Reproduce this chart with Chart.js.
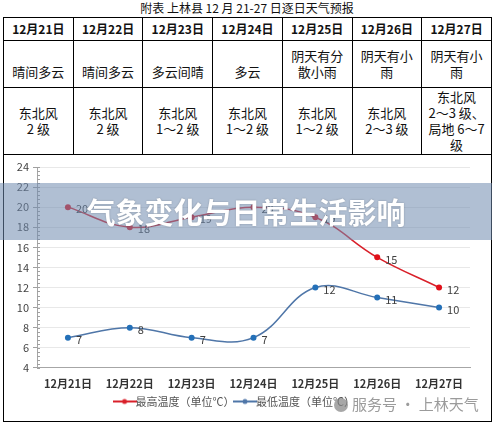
<!DOCTYPE html>
<html>
<head>
<meta charset="utf-8">
<script src="https://cdn.jsdelivr.net/npm/chart.js@4.4.1/dist/chart.umd.min.js"></script>
<style>
body { margin: 0; width: 494px; height: 424px; background: #fff; position: relative; overflow: hidden; font-family: "Noto Sans CJK SC", sans-serif; }
#title { position: absolute; left: 0; top: 0; width: 494px; text-align: center; font-size: 12px; line-height: 16px; color: #111; }
#box { position: absolute; left: 3px; top: 17px; width: 487px; height: 403px; border: 1px solid #000; }
#tbl { position: absolute; left: 3px; top: 17px; width: 489px; border-collapse: collapse; table-layout: fixed; }
#tbl td { border: 1px solid #000; text-align: center; padding: 0; font-size: 13px; line-height: 16px; color: #111; white-space: pre-line; }
#tbl tr.h td { height: 22px; font-weight: bold; font-size: 12px; }
#tbl tr.w td { height: 39px; vertical-align: bottom; padding-bottom: 7px; }
#tbl tr.f td { height: 66px; }
#wrap { position: absolute; left: 4px; top: 156px; width: 486px; height: 264px; }
#band { position: absolute; left: 0; top: 183px; width: 492px; height: 57px; background: rgba(111,139,175,0.55); color: #fff; font-weight: bold; font-size: 29px; line-height: 57px; text-align: center; text-shadow: 0 0 2px rgba(0,0,0,0.25); }
#wm { position: absolute; left: 334px; top: 394px; font-size: 15px; line-height: 20px; color: rgba(130,130,130,0.8); }
#wm span { display: inline-block; width: 14px; height: 14px; border-radius: 7px; background: rgba(130,130,130,0.7); vertical-align: -2px; margin-right: 4px; }
</style>
</head>
<body>
<div id="title">附表 上林县 12 月 21-27 日逐日天气预报</div>
<div id="box"></div>
<table id="tbl">
  <tr class="h" id="rowDays"></tr>
  <tr class="w" id="rowWeather"></tr>
  <tr class="f" id="rowWind"></tr>
</table>
<div id="wrap"><canvas id="myChart"></canvas></div>
<div id="band">气象变化与日常生活影响</div>
<div id="wm"><span></span>服务号 · 上林天气</div>
<script>
var days = ['12月21日', '12月22日', '12月23日', '12月24日', '12月25日', '12月26日', '12月27日'];
var weather = ['晴间多云', '晴间多云', '多云间晴', '多云', '阴天有分\n散小雨', '阴天有小\n雨', '阴天有小\n雨'];
var wind = ['东北风\n2 级', '东北风\n2 级', '东北风\n1～2 级', '东北风\n1～2 级', '东北风\n1～2 级', '东北风\n2～3 级', '东北风\n2～3 级、\n局地 6～7\n级'];
var high = [20, 18, 19, 20, 19, 15, 12];
var low = [7, 8, 7, 7, 12, 11, 10];
var yMin = 4, yMax = 24, yStep = 2;

function fillRow(id, list) {
    var row = document.getElementById(id);
    for (var i = 0; i < list.length; i++) {
        var td = document.createElement('td');
        td.textContent = list[i];
        row.appendChild(td);
    }
}
fillRow('rowDays', days);
fillRow('rowWeather', weather);
fillRow('rowWind', wind);

// little "line + dot" marker for the legend
function legendMark(color) {
    var c = document.createElement('canvas');
    c.width = 24; c.height = 8;
    var g = c.getContext('2d');
    g.strokeStyle = color; g.lineWidth = 2;
    g.beginPath(); g.moveTo(0, 4); g.lineTo(24, 4); g.stroke();
    g.fillStyle = color;
    g.beginPath(); g.arc(12, 4, 2.5, 0, Math.PI * 2); g.fill();
    return c;
}

var valueLabels = {
    id: 'valueLabels',
    afterDatasetsDraw: function (chart) {
        var ctx = chart.ctx;
        ctx.save();
        ctx.font = '11px "Noto Sans CJK SC"';
        ctx.fillStyle = '#404040';
        ctx.textBaseline = 'middle';
        chart.data.datasets.forEach(function (ds, i) {
            chart.getDatasetMeta(i).data.forEach(function (pt, j) {
                ctx.fillText(ds.data[j], pt.x + 8, pt.y + 2);
            });
        });
        ctx.restore();
    }
};

var minorTicks = {
    id: 'minorTicks',
    afterDraw: function (chart) {
        var y = chart.scales.y, ctx = chart.ctx;
        ctx.save();
        ctx.strokeStyle = '#a0a0a0';
        ctx.lineWidth = 1;
        for (var k = 0; k <= (yMax - yMin) / 0.4; k++) {
            var py = Math.round(y.getPixelForValue(yMin + k * 0.4)) + 0.5;
            ctx.beginPath();
            ctx.moveTo(y.right, py);
            ctx.lineTo(y.right + 3, py);
            ctx.stroke();
        }
        ctx.restore();
    }
};

var ctx = document.getElementById('myChart').getContext('2d');
var myChart = new Chart(ctx, {
    type: 'line',
    data: {
        labels: days,
        datasets: [{
            label: '最高温度（单位℃）',
            data: high,
            borderColor: '#d9202a',
            backgroundColor: '#e0101a',
            pointBackgroundColor: '#e0101a',
            borderWidth: 1.5,
            pointRadius: 3,
            pointBorderWidth: 0,
            tension: 0.4
        }, {
            label: '最低温度（单位℃）',
            data: low,
            borderColor: '#4f76a8',
            backgroundColor: '#2470b8',
            pointBackgroundColor: '#2470b8',
            borderWidth: 1.5,
            pointRadius: 3,
            pointBorderWidth: 0,
            tension: 0.4
        }]
    },
    options: {
        responsive: true,
        maintainAspectRatio: false,
        animation: false,
        layout: { padding: { left: 0, right: 20, top: 11, bottom: 3 } },
        plugins: {
            tooltip: { enabled: false },
            legend: {
                position: 'bottom',
                labels: {
                    usePointStyle: true,
                    padding: 5,
                    color: '#555',
                    font: { size: 11, family: '"Noto Sans CJK SC"' },
                    generateLabels: function (chart) {
                        return chart.data.datasets.map(function (ds, i) {
                            return {
                                text: ds.label,
                                pointStyle: legendMark(ds.borderColor),
                                fontColor: '#555',
                                lineWidth: 0,
                                strokeStyle: 'transparent',
                                datasetIndex: i
                            };
                        });
                    }
                }
            }
        },
        scales: {
            x: {
                offset: true,
                grid: { display: false },
                border: { display: true, color: '#a6a6a6' },
                ticks: { color: '#333', padding: 1, font: { size: 11, weight: 'bold', family: '"Noto Sans CJK SC"' } }
            },
            y: {
                min: yMin,
                max: yMax,
                afterFit: function (scale) { scale.width = 33; },
                grid: { color: '#e8e8e8', tickColor: '#a0a0a0', tickLength: 4 },
                border: { display: true, color: '#a6a6a6' },
                ticks: { stepSize: yStep, color: '#444', padding: 4, font: { size: 11, family: '"Noto Sans CJK SC"' } }
            }
        }
    },
    plugins: [valueLabels, minorTicks]
});
</script>
</body>
</html>
